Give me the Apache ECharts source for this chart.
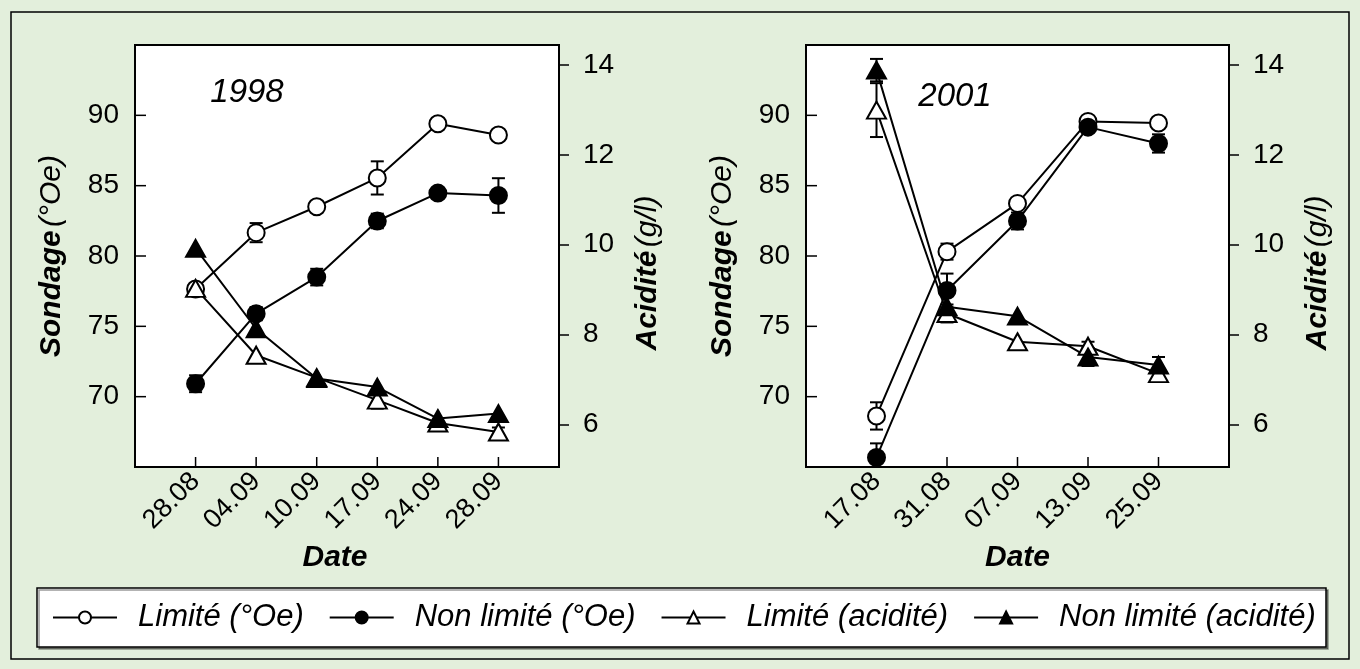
<!DOCTYPE html>
<html>
<head>
<meta charset="utf-8">
<script src="https://cdn.jsdelivr.net/npm/echarts@6/dist/echarts.min.js"></script>
<style>
  html, body { margin: 0; padding: 0; background: #e3efdc; }
  #myChart { width: 1360px; height: 669px; }
</style>
</head>
<body>
<div id="myChart"></div>
<script>
// dates
var dates1998 = ["28.08", "04.09", "10.09", "17.09", "24.09", "28.09"];
var dates2001 = ["17.08", "31.08", "07.09", "13.09", "25.09"];

// 1998 - sondage (°Oe) et acidité (g/l), avec erreurs (+/-)
var lim98Oe = [77.65, 81.66, 83.5, 85.55, 89.4, 88.6];
var lim98OeErr = [0, 0.68, 0, 1.18, 0, 0];
var nonLim98Oe = [70.92, 75.9, 78.5, 82.49, 84.47, 84.3];
var nonLim98OeErr = [0.6, 0.47, 0.59, 0.52, 0.3, 1.23];
var lim98Ac = [9.03, 7.54, 7.04, 6.54, 6.03, 5.83];
var lim98AcErr = [0, 0, 0, 0.19, 0, 0.1];
var nonLim98Ac = [9.92, 8.13, 7.02, 6.83, 6.13, 6.24];
var nonLim98AcErr = [0, 0, 0, 0, 0, 0];

// 2001
var lim01Oe = [68.63, 80.31, 83.74, 89.57, 89.45];
var lim01OeErr = [0.97, 0.57, 0.3, 0, 0];
var nonLim01Oe = [65.68, 77.55, 82.49, 89.16, 88.0];
var nonLim01OeErr = [1.0, 1.2, 0.6, 0, 0.65];
var lim01Ac = [13.0, 8.47, 7.84, 7.74, 7.13];
var lim01AcErr = [0.6, 0.2, 0, 0.1, 0];
var nonLim01Ac = [13.89, 8.62, 8.41, 7.5, 7.32];
var nonLim01AcErr = [0.25, 0, 0, 0.2, 0.18];

var oeTicks = [70, 75, 80, 85, 90];
var acTicks = [6, 8, 10, 12, 14];

var FONT = "Liberation Sans, Arial, Helvetica, sans-serif";
var OE_MIN = 65, OE_MAX = 95;

function pts(values) {
  return values.map(function (v, i) { return [i, v]; });
}
function errPts(values, errs) {
  return values.map(function (v, i) { return [i, v, errs[i]]; });
}

// barres d'erreur
function renderErr(params, api) {
  var e = api.value(2);
  if (!e) return;
  var x = api.value(0);
  var y = api.value(1);
  var top = api.coord([x, y + e]);
  var bot = api.coord([x, y - e]);
  var w = 6.5;
  var st = { stroke: "#000", lineWidth: 2 };
  return {
    type: "group",
    children: [
      { type: "line", shape: { x1: top[0], y1: top[1], x2: bot[0], y2: bot[1] }, style: st },
      { type: "line", shape: { x1: top[0] - w, y1: top[1], x2: top[0] + w, y2: top[1] }, style: st },
      { type: "line", shape: { x1: bot[0] - w, y1: bot[1], x2: bot[0] + w, y2: bot[1] }, style: st },
    ],
  };
}

var styles = {
  "Limité (°Oe)": { symbol: "circle", size: 17, fill: "#fff" },
  "Non limité (°Oe)": { symbol: "circle", size: 17, fill: "#000" },
  "Limité (acidité)": { symbol: "triangle", size: [19, 17], fill: "#fff" },
  "Non limité (acidité)": { symbol: "triangle", size: [19, 17], fill: "#000" },
};

function lineSeries(id, name, gridIdx, yIdx, values) {
  var s = styles[name];
  return {
    id: id,
    name: name,
    type: "line",
    xAxisIndex: gridIdx,
    yAxisIndex: yIdx,
    data: pts(values),
    symbol: s.symbol,
    symbolSize: s.size,
    z: 5,
    lineStyle: { color: "#000", width: 2 },
    itemStyle: { color: s.fill, borderColor: "#000", borderWidth: 2 },
  };
}

function errSeries(gridIdx, yIdx, values, errs) {
  return {
    type: "custom",
    xAxisIndex: gridIdx,
    yAxisIndex: yIdx,
    renderItem: renderErr,
    data: errPts(values, errs),
    encode: { x: 0, y: 1 },
    z: 3,
    clip: true,
    silent: true,
  };
}

var axisLineStyle = { show: true, onZero: false, lineStyle: { color: "#000", width: 2 } };
var tickStyle = { color: "#000", width: 1.5 };

function xAxisFor(gridIdx, dates) {
  var idx = dates.map(function (d, i) { return i; });
  return {
    gridIndex: gridIdx,
    type: "value",
    min: -1,
    max: dates.length,
    name: "Date",
    nameLocation: "middle",
    nameGap: 76,
    nameTextStyle: {
      fontSize: 30, fontWeight: "bold", fontStyle: "italic", color: "#000", fontFamily: FONT,
      padding: gridIdx === 0 ? [0, 24, 0, 0] : 0,
    },
    splitLine: { show: false },
    axisLine: axisLineStyle,
    axisTick: { show: false },
    axisLabel: {
      customValues: idx,
      rotate: 45,
      margin: 10,
      fontSize: 27,
      color: "#000",
      fontFamily: FONT,
      formatter: function (v) { return dates[v]; },
    },
  };
}

function yOeAxis(gridIdx) {
  return {
    gridIndex: gridIdx,
    type: "value",
    position: "left",
    min: OE_MIN,
    max: OE_MAX,
    name: "{b|Sondage} {n|(°Oe)}",
    nameLocation: "middle",
    nameRotate: 90,
    nameGap: 68,
    nameTextStyle: {
      rich: {
        b: { fontSize: 30, fontWeight: "bold", fontStyle: "italic", color: "#000", fontFamily: FONT },
        n: { fontSize: 30, fontStyle: "italic", color: "#000", fontFamily: FONT },
      },
    },
    splitLine: { show: false },
    axisLine: axisLineStyle,
    axisTick: { show: false },
    axisLabel: { customValues: oeTicks, margin: 16, fontSize: 28, color: "#000", fontFamily: FONT },
  };
}

function yAcAxis(gridIdx) {
  return {
    gridIndex: gridIdx,
    type: "value",
    position: "right",
    min: 5.05,
    max: 14.45,
    name: "{b|Acidité} {n|(g/l)}",
    nameLocation: "middle",
    nameRotate: 90,
    nameGap: 74,
    nameTextStyle: {
      padding: [0, 34, 0, 0],
      rich: {
        b: { fontSize: 30, fontWeight: "bold", fontStyle: "italic", color: "#000", fontFamily: FONT },
        n: { fontSize: 30, fontStyle: "italic", color: "#000", fontFamily: FONT },
      },
    },
    splitLine: { show: false },
    axisLine: axisLineStyle,
    axisTick: { show: true, inside: false, length: 10, customValues: acTicks, lineStyle: tickStyle },
    axisLabel: { customValues: acTicks, margin: 24, fontSize: 28, color: "#000", fontFamily: FONT },
  };
}

var baseGraphic = [
  {
    type: "rect",
    shape: { x: 11, y: 12, width: 1338, height: 647 },
    style: { fill: "none", stroke: "#000", lineWidth: 1.5 },
    z: -10,
  },
  {
    type: "rect",
    shape: { x: 37, y: 588, width: 1289, height: 59 },
    style: { fill: "#fff", stroke: "#000", lineWidth: 1.5, shadowColor: "rgba(0,0,0,0.4)", shadowOffsetX: 2, shadowOffsetY: 2 },
    z: -5,
  },
  {
    type: "text",
    x: 247, y: 93,
    style: { text: "1998", fontSize: 33, fontStyle: "italic", fontFamily: FONT, fill: "#000", align: "center", verticalAlign: "middle" },
    z: 10,
  },
  {
    type: "text",
    x: 955, y: 97,
    style: { text: "2001", fontSize: 33, fontStyle: "italic", fontFamily: FONT, fill: "#000", align: "center", verticalAlign: "middle" },
    z: 10,
  },
];

var myChart = echarts.init(document.getElementById("myChart"));
var option = {
  backgroundColor: "#e3efdc",
  animation: false,
  graphic: baseGraphic,
  legend: {
    data: ["Limité (°Oe)", "Non limité (°Oe)", "Limité (acidité)", "Non limité (acidité)"],
    left: 52,
    top: 599,
    padding: 0,
    itemWidth: 64,
    itemHeight: 15,
    itemGap: 25,
    selectedMode: false,
    textStyle: {
      fontSize: 31, fontStyle: "italic", color: "#000", fontFamily: FONT,
      lineHeight: 37, padding: [0, 0, 0, 16],
    },
  },
  grid: [
    { left: 135, top: 45, width: 424, height: 422, show: true, backgroundColor: "#fff", borderColor: "#000", borderWidth: 2 },
    { left: 806, top: 45, width: 423, height: 422, show: true, backgroundColor: "#fff", borderColor: "#000", borderWidth: 2 },
  ],
  xAxis: [xAxisFor(0, dates1998), xAxisFor(1, dates2001)],
  yAxis: [yOeAxis(0), yAcAxis(0), yOeAxis(1), yAcAxis(1)],
  series: [
    errSeries(0, 0, lim98Oe, lim98OeErr),
    errSeries(0, 0, nonLim98Oe, nonLim98OeErr),
    errSeries(0, 1, lim98Ac, lim98AcErr),
    errSeries(0, 1, nonLim98Ac, nonLim98AcErr),
    lineSeries("lim98Oe", "Limité (°Oe)", 0, 0, lim98Oe),
    lineSeries("nonLim98Oe", "Non limité (°Oe)", 0, 0, nonLim98Oe),
    lineSeries("lim98Ac", "Limité (acidité)", 0, 1, lim98Ac),
    lineSeries("nonLim98Ac", "Non limité (acidité)", 0, 1, nonLim98Ac),

    errSeries(1, 2, lim01Oe, lim01OeErr),
    errSeries(1, 2, nonLim01Oe, nonLim01OeErr),
    errSeries(1, 3, lim01Ac, lim01AcErr),
    errSeries(1, 3, nonLim01Ac, nonLim01AcErr),
    lineSeries("lim01Oe", "Limité (°Oe)", 1, 2, lim01Oe),
    lineSeries("nonLim01Oe", "Non limité (°Oe)", 1, 2, nonLim01Oe),
    lineSeries("lim01Ac", "Limité (acidité)", 1, 3, lim01Ac),
    lineSeries("nonLim01Ac", "Non limité (acidité)", 1, 3, nonLim01Ac),
  ],
};
myChart.setOption(option);

// graduations intérieures (axe gauche et axe du bas), placées avec les échelles du graphe
var ticks = [];
function addTicks(seriesId, dates) {
  oeTicks.forEach(function (v) {
    var p = myChart.convertToPixel({ seriesId: seriesId }, [-1, v]);
    ticks.push({ type: "line", shape: { x1: p[0], y1: p[1], x2: p[0] + 11, y2: p[1] }, style: { stroke: "#000", lineWidth: 1.5 }, z: 50 });
  });
  dates.forEach(function (d, i) {
    var p = myChart.convertToPixel({ seriesId: seriesId }, [i, OE_MIN]);
    ticks.push({ type: "line", shape: { x1: p[0], y1: p[1], x2: p[0], y2: p[1] - 10 }, style: { stroke: "#000", lineWidth: 1.5 }, z: 50 });
  });
}
addTicks("lim98Oe", dates1998);
addTicks("lim01Oe", dates2001);
option.graphic = baseGraphic.concat(ticks);
myChart.setOption(option, true);
</script>
</body>
</html>
